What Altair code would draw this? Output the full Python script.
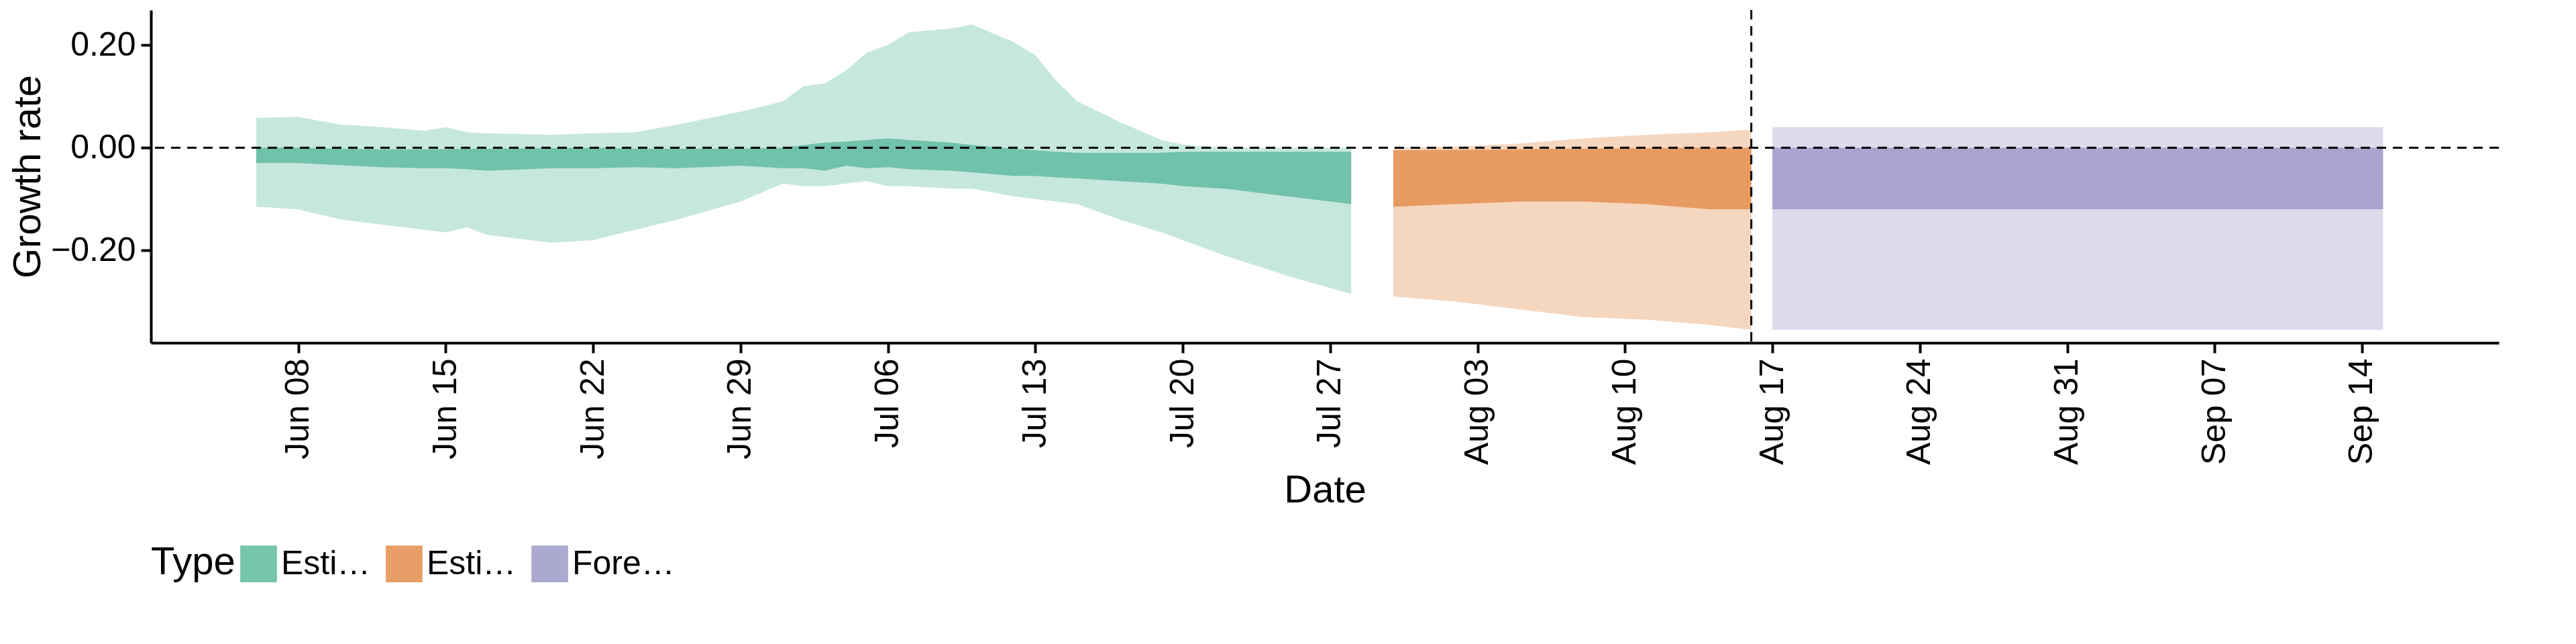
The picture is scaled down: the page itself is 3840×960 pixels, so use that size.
import altair as alt
import pandas as pd

# Estimate (readings from the picture)
est_dates = ["2020-06-06", "2020-06-08", "2020-06-10", "2020-06-12", "2020-06-14", "2020-06-15",
             "2020-06-16", "2020-06-17", "2020-06-20", "2020-06-22", "2020-06-24", "2020-06-26",
             "2020-06-29", "2020-07-01", "2020-07-02", "2020-07-03", "2020-07-04", "2020-07-05",
             "2020-07-06", "2020-07-07", "2020-07-09", "2020-07-10", "2020-07-12", "2020-07-13",
             "2020-07-14", "2020-07-15", "2020-07-17", "2020-07-19", "2020-07-20", "2020-07-22",
             "2020-07-25", "2020-07-28"]
est_hi = [0.058, 0.060, 0.045, 0.040, 0.033, 0.040, 0.030, 0.028, 0.025, 0.028, 0.030, 0.045,
          0.070, 0.090, 0.120, 0.125, 0.150, 0.185, 0.200, 0.225, 0.232, 0.240, 0.205, 0.180,
          0.130, 0.090, 0.050, 0.015, 0.006, 0.000, 0.000, 0.000]
est_lo = [-0.115, -0.120, -0.140, -0.150, -0.160, -0.165, -0.155, -0.170, -0.185, -0.180, -0.160,
          -0.140, -0.105, -0.070, -0.075, -0.075, -0.070, -0.065, -0.075, -0.075, -0.080, -0.080,
          -0.095, -0.100, -0.105, -0.110, -0.140, -0.165, -0.180, -0.210, -0.250, -0.285]
est_in_hi = [0.000, 0.000, -0.002, -0.003, -0.003, -0.003, -0.002, -0.002, -0.001, 0.000, -0.002,
             -0.002, -0.002, 0.000, 0.005, 0.010, 0.012, 0.015, 0.018, 0.015, 0.010, 0.005,
             -0.002, -0.005, -0.008, -0.010, -0.010, -0.010, -0.008, -0.008, -0.008, -0.008]
est_in_lo = [-0.030, -0.030, -0.034, -0.038, -0.040, -0.040, -0.042, -0.045, -0.040, -0.040,
             -0.038, -0.040, -0.035, -0.040, -0.040, -0.045, -0.035, -0.040, -0.038, -0.042,
             -0.045, -0.048, -0.055, -0.055, -0.058, -0.060, -0.065, -0.070, -0.075, -0.080,
             -0.095, -0.110]

# Estimate based on partial data
par_dates = ["2020-07-30", "2020-08-02", "2020-08-05", "2020-08-08", "2020-08-11", "2020-08-14",
             "2020-08-16"]
par_hi = [0.000, 0.002, 0.008, 0.018, 0.025, 0.030, 0.035]
par_lo = [-0.290, -0.300, -0.315, -0.330, -0.335, -0.345, -0.355]
par_in_hi = [-0.005, -0.004, -0.003, -0.002, -0.001, 0.000, 0.000]
par_in_lo = [-0.115, -0.110, -0.105, -0.105, -0.110, -0.120, -0.120]

# Forecast
fc_dates = ["2020-08-17", "2020-09-15"]
fc_hi = [0.040, 0.040]
fc_lo = [-0.355, -0.355]
fc_in_hi = [0.000, 0.000]
fc_in_lo = [-0.120, -0.120]

types = ["Estimate", "Estimate based on partial data", "Forecast"]
dark2 = ["#1b9e77", "#d95f02", "#7570b3"]

rows = []
for t, d, hi, lo, ih, il in [
    (types[0], est_dates, est_hi, est_lo, est_in_hi, est_in_lo),
    (types[1], par_dates, par_hi, par_lo, par_in_hi, par_in_lo),
    (types[2], fc_dates, fc_hi, fc_lo, fc_in_hi, fc_in_lo),
]:
    for i in range(len(d)):
        rows.append({"Date": d[i], "hi": hi[i], "lo": lo[i], "ihi": ih[i], "ilo": il[i], "Type": t})
df = pd.DataFrame(rows)

font = "Liberation Sans"
x = alt.X(
    "Date:T",
    title="Date",
    scale=alt.Scale(domain=["2020-06-01", "2020-09-20T12:00:00"]),
    axis=alt.Axis(
        values=[f"2020-{m}" for m in ["06-08", "06-15", "06-22", "06-29", "07-06", "07-13",
                                      "07-20", "07-27", "08-03", "08-10", "08-17", "08-24",
                                      "08-31", "09-07", "09-14"]],
        format="%b %d", labelAngle=-90, labelAlign="right", labelBaseline="middle",
        grid=False, titlePadding=10,
    ),
)
yscale = alt.Scale(domain=[-0.38, 0.268], nice=False, zero=False)
color = alt.Color(
    "Type:N",
    scale=alt.Scale(domain=types, range=dark2),
    legend=alt.Legend(orient="bottom", direction="horizontal", title="Type",
                      symbolType="square", symbolSize=3000, symbolStrokeWidth=4,
                      symbolOpacity=0.6, titleOrient="left"),
)

outer = alt.Chart(df).mark_area(strokeWidth=0, opacity=0.25).encode(
    x=x,
    y=alt.Y("lo:Q", title="Growth rate", scale=yscale,
            axis=alt.Axis(values=[-0.2, 0, 0.2], format=".2f", grid=False)),
    y2="hi:Q",
    color=color,
)
inner = alt.Chart(df).mark_area(strokeWidth=0, opacity=0.5).encode(
    x=x,
    y=alt.Y("ilo:Q", scale=yscale),
    y2="ihi:Q",
    color=color,
)
hline = alt.Chart(pd.DataFrame({"y": [0]})).mark_rule(
    strokeDash=[14, 10], strokeWidth=3, color="black").encode(y="y:Q")
vline = alt.Chart(pd.DataFrame({"d": ["2020-08-16"]})).mark_rule(
    strokeDash=[14, 10], strokeWidth=3, color="black").encode(x="d:T")

chart = (
    alt.layer(outer, inner, hline, vline)
    .properties(width=3500, height=496)
    .configure_view(stroke=None)
    .configure_axis(
        labelFont=font, titleFont=font, labelFontSize=50, titleFontSize=58,
        labelColor="black", titleColor="black", domainColor="black", tickColor="black",
        domainWidth=4, tickWidth=4, tickSize=15, labelPadding=8, titleFontWeight="normal",
    )
    .configure_legend(
        labelFont=font, titleFont=font, labelFontSize=50, titleFontSize=58,
        titleFontWeight="normal", labelColor="black", titleColor="black",
        columnPadding=20, offset=50,
    )
)
chart.save("out.html", embed_options={"renderer": "svg", "actions": False})
